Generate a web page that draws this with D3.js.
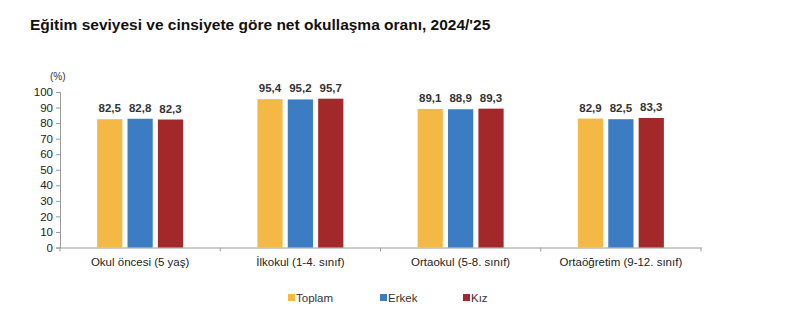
<!DOCTYPE html>
<meta charset="utf-8">
<style>
body { margin: 0; background: #fff; }
text { font-family: "Liberation Sans", Arial, sans-serif; }
</style>
<body>
<script src="https://cdn.jsdelivr.net/npm/d3@7"></script>
<script>

// data
var categories = ["Okul öncesi (5 yaş)", "İlkokul (1-4. sınıf)", "Ortaokul (5-8. sınıf)", "Ortaöğretim (9-12. sınıf)"];
var series = ["Toplam", "Erkek", "Kız"];
var toplam = [82.5, 95.4, 89.1, 82.9];
var erkek = [82.8, 95.2, 88.9, 82.5];
var kiz = [82.3, 95.7, 89.3, 83.3];
var yTicks = [0, 10, 20, 30, 40, 50, 60, 70, 80, 90, 100];
var colors = ["#F3B944", "#3B7CC3", "#A3282A"];

var values = [toplam, erkek, kiz];
var fmt = function(v) { return d3.format(".1f")(v).replace(".", ","); };

var W = 800, H = 333;
var svg = d3.select("body").append("svg")
    .attr("width", W)
    .attr("height", H);

// title
svg.append("text")
    .attr("x", 30)
    .attr("y", 30)
    .attr("font-size", 15.5)
    .attr("font-weight", "bold")
    .attr("fill", "#111")
    .text("Eğitim seviyesi ve cinsiyete göre net okullaşma oranı, 2024/'25");

var x0 = d3.scaleBand().domain(categories).range([60, 701]);
var x1 = d3.scaleBand().domain(series).range([0, 86]).paddingInner(0.17);
var y = d3.scaleLinear().domain([0, 100]).range([247.5, 92]);

// y axis
var yAxis = svg.append("g")
    .attr("transform", "translate(60,0)")
    .call(d3.axisLeft(y).tickValues(yTicks).tickSize(4).tickPadding(3));
yAxis.select(".domain").attr("stroke", "#9a9a9a");
yAxis.selectAll(".tick line").attr("stroke", "#9a9a9a");
yAxis.selectAll(".tick text")
    .attr("font-size", 11.5)
    .attr("fill", "#222")
    .attr("font-family", "Liberation Sans, Arial, sans-serif");

svg.append("text")
    .attr("x", 50)
    .attr("y", 80)
    .attr("font-size", 10)
    .attr("fill", "#333")
    .text("(%)");

// x axis
var xAxis = svg.append("g")
    .attr("transform", "translate(0," + y(0) + ")")
    .call(d3.axisBottom(x0).tickSize(0).tickPadding(10).tickSizeOuter(0));
xAxis.select(".domain").attr("stroke", "#9a9a9a");
xAxis.selectAll(".tick text")
    .attr("font-size", 11.5)
    .attr("fill", "#222")
    .attr("font-family", "Liberation Sans, Arial, sans-serif");

// category separators
svg.append("g").selectAll("line")
    .data(categories.concat([null]))
    .enter().append("line")
    .attr("x1", function(d, i) { return 60 + i * x0.bandwidth(); })
    .attr("x2", function(d, i) { return 60 + i * x0.bandwidth(); })
    .attr("y1", y(0))
    .attr("y2", y(0) + 4)
    .attr("stroke", "#9a9a9a");

// bars
var groups = svg.append("g").selectAll("g")
    .data(categories)
    .enter().append("g")
    .attr("transform", function(d) {
      return "translate(" + (x0(d) + (x0.bandwidth() - 86) / 2) + ",0)";
    });

groups.selectAll("rect")
    .data(function(d, i) { return series.map(function(s, j) { return {s: s, v: values[j][i], j: j}; }); })
    .enter().append("rect")
    .attr("x", function(d) { return x1(d.s); })
    .attr("width", x1.bandwidth())
    .attr("y", function(d) { return y(d.v); })
    .attr("height", function(d) { return y(0) - y(d.v); })
    .attr("fill", function(d) { return colors[d.j]; });

groups.selectAll("text")
    .data(function(d, i) { return series.map(function(s, j) { return {s: s, v: values[j][i], j: j}; }); })
    .enter().append("text")
    .attr("x", function(d) { return x1(d.s) + x1.bandwidth() / 2; })
    .attr("y", function(d) { return y(d.v) - 7; })
    .attr("text-anchor", "middle")
    .attr("font-size", 11.5)
    .attr("font-weight", "bold")
    .attr("fill", "#333")
    .text(function(d) { return fmt(d.v); });

// legend
var legendX = [288, 380, 463];
var legend = svg.append("g").selectAll("g")
    .data(series)
    .enter().append("g")
    .attr("transform", function(d, i) { return "translate(" + legendX[i] + ",294)"; });
legend.append("rect")
    .attr("width", 7)
    .attr("height", 7)
    .attr("fill", function(d, i) { return colors[i]; });
legend.append("text")
    .attr("x", 8)
    .attr("y", 7.5)
    .attr("font-size", 11.5)
    .attr("fill", "#333")
    .text(function(d) { return d; });

</script>
</body>
